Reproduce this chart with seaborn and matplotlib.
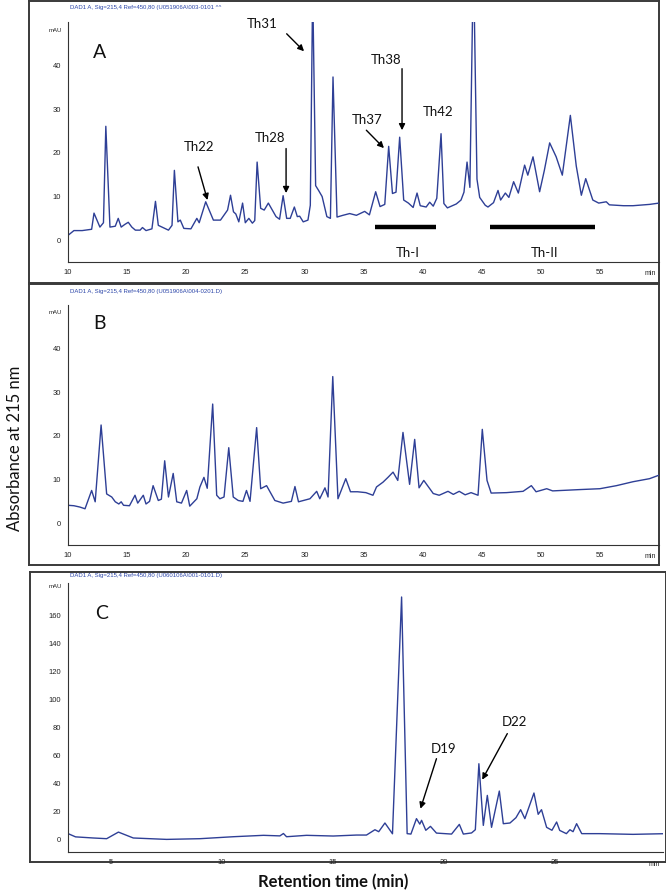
import pandas as pd
import seaborn as sns
import matplotlib.pyplot as plt
from matplotlib.ticker import MultipleLocator

# panel A - Th fractions
a_time = [10.0, 10.5, 11.2, 12.0, 12.2, 12.7, 13.0, 13.2, 13.55, 14.0, 14.25, 14.5, 14.8, 15.1,
          15.4, 15.7, 16.1, 16.3, 16.6, 17.1, 17.4, 17.64, 18.1, 18.5, 18.8, 19.0, 19.3, 19.5,
          19.8, 20.4, 20.9, 21.1, 21.65, 22.3, 22.9, 23.5, 23.75, 24.0, 24.2, 24.45, 24.77, 25.0,
          25.3, 25.6, 25.8, 26.0, 26.3, 26.6, 26.95, 27.6, 27.9, 28.2, 28.5, 28.8, 29.15, 29.4,
          29.6, 29.9, 30.3, 30.5, 30.7, 30.95, 31.2, 31.5, 31.9, 32.2, 32.42, 32.76, 33.26, 33.83,
          34.4, 35.1, 35.5, 36.03, 36.4, 36.8, 37.13, 37.45, 37.75, 38.06, 38.4, 38.8, 39.2, 39.53,
          39.8, 40.3, 40.6, 40.9, 41.2, 41.56, 41.8, 42.1, 42.85, 43.25, 43.5, 43.76, 44.0, 44.3,
          44.6, 44.83, 45.3, 45.53, 46.0, 46.38, 46.6, 47.0, 47.3, 47.7, 48.1, 48.63, 48.9, 49.34,
          49.9, 50.3, 50.75, 51.3, 51.82, 52.5, 53.0, 53.43, 53.8, 54.4, 54.9, 55.54, 55.8, 57.0,
          57.8, 59.2, 60.0]
a_abs = [1.1, 2.2, 2.2, 2.5, 6.2, 3.0, 4.0, 26.1, 3.0, 3.2, 5.0, 3.0, 3.6, 4.1,
         3.0, 2.3, 2.3, 2.9, 2.2, 2.6, 8.9, 3.4, 2.8, 2.3, 3.4, 16.0, 4.2, 4.6,
         2.7, 2.6, 5.0, 4.0, 8.8, 4.6, 4.6, 6.9, 10.3, 6.5, 6.0, 4.2, 8.5, 4.0,
         5.0, 3.9, 4.5, 17.9, 7.3, 6.9, 8.5, 5.4, 4.8, 10.2, 5.0, 5.0, 7.6, 5.4,
         5.5, 4.2, 4.6, 8.0, 58.0, 12.5, 11.4, 10.0, 5.4, 5.0, 37.4, 5.3, 5.7, 6.1,
         5.7, 6.6, 5.8, 11.1, 7.7, 8.2, 21.5, 10.7, 11.0, 23.6, 9.2, 8.5, 7.5, 10.8,
         7.9, 7.6, 8.7, 7.8, 9.6, 24.4, 8.4, 7.4, 8.3, 9.2, 11.0, 17.9, 12.1, 65.0,
         14.0, 9.8, 8.0, 7.6, 8.6, 11.4, 9.2, 10.8, 9.8, 13.4, 10.8, 17.2, 14.9, 19.1,
         11.1, 16.0, 22.3, 19.1, 14.9, 28.6, 17.0, 10.3, 14.1, 9.2, 8.5, 8.8, 8.1, 7.9,
         7.9, 8.2, 8.5]

# panel B
b_time = [10.0, 10.5, 11.0, 11.44, 12.0, 12.3, 12.8, 13.27, 13.7, 14.0, 14.3, 14.5, 14.7, 15.2,
          15.67, 15.9, 16.37, 16.6, 16.9, 17.2, 17.64, 17.9, 18.18, 18.5, 18.9, 19.2, 19.6, 20.04,
          20.3, 20.9, 21.16, 21.5, 21.78, 22.24, 22.58, 22.85, 23.2, 23.6, 23.98, 24.4, 24.8, 25.1,
          25.4, 25.96, 26.3, 26.8, 27.5, 28.2, 28.9, 29.2, 29.5, 30.47, 31.04, 31.3, 31.74, 32.0,
          32.4, 32.84, 33.5, 33.9, 34.5, 35.2, 35.8, 36.1, 36.65, 37.07, 37.5, 37.9, 38.34, 38.9,
          39.33, 39.7, 40.1, 40.9, 41.4, 42.15, 42.6, 43.1, 43.6, 44.1, 44.69, 45.05, 45.45, 45.8,
          47.1, 48.5, 49.2, 49.6, 50.5, 51.0, 53.3, 55.0, 56.4, 57.8, 59.2, 60.0]
b_abs = [4.1, 4.0, 3.7, 3.3, 7.5, 4.9, 22.5, 6.7, 6.0, 4.9, 4.4, 4.9, 4.1, 4.0,
         6.4, 4.6, 6.4, 4.4, 5.0, 8.6, 5.2, 5.5, 14.3, 6.0, 11.4, 4.9, 4.6, 7.5,
         3.9, 5.6, 8.3, 10.5, 8.0, 27.3, 6.4, 5.6, 6.0, 17.3, 6.0, 5.2, 5.0, 7.5,
         5.0, 21.9, 7.9, 8.6, 5.2, 4.6, 5.0, 8.4, 4.9, 5.6, 7.3, 5.6, 8.1, 6.0,
         33.6, 5.6, 10.2, 7.2, 7.2, 7.0, 6.4, 8.3, 9.4, 10.5, 11.7, 9.8, 20.8, 8.9,
         19.2, 8.1, 9.8, 6.8, 6.4, 7.3, 6.6, 7.3, 6.5, 7.0, 6.4, 21.5, 9.8, 6.9,
         7.0, 7.3, 8.6, 7.2, 7.9, 7.4, 7.7, 7.9, 8.6, 9.5, 10.2, 11.0]

# panel C - D fractions
c_time = [3.08, 3.4, 4.2, 4.8, 5.33, 6.0, 7.5, 9.0, 10.5, 11.86, 12.6, 12.76, 12.9, 13.8,
          15.0, 16.05, 16.5, 16.88, 17.05, 17.33, 17.67, 18.08, 18.33, 18.5, 18.75, 18.9, 18.98,
          19.17, 19.38, 19.65, 20.33, 20.68, 20.86, 21.23, 21.4, 21.56, 21.76, 21.94, 22.13,
          22.48, 22.66, 22.96, 23.23, 23.44, 23.63, 24.04, 24.23, 24.38, 24.61, 24.85, 25.06,
          25.2, 25.5, 25.66, 25.8, 25.96, 26.19, 27.0, 28.5, 30.0]
c_abs = [4.0, 1.8, 1.0, 0.5, 5.2, 1.0, 0.0, 0.5, 1.9, 2.9, 2.5, 4.2, 1.9, 2.9,
         2.4, 3.1, 3.1, 6.9, 5.5, 11.7, 4.0, 173.0, 4.1, 3.8, 14.8, 10.9, 13.6,
         6.5, 9.3, 4.5, 3.8, 10.7, 3.8, 4.6, 6.9, 54.0, 10.0, 31.4, 8.6,
         34.5, 11.2, 11.7, 15.5, 21.2, 14.8, 33.1, 17.9, 21.2, 8.6, 6.5, 12.4,
         6.4, 4.1, 6.9, 5.5, 11.2, 4.1, 4.1, 3.6, 4.1]

a_labels = ["Th22", "Th28", "Th31", "Th37", "Th38"]
a_label_xy = [(21.1, 21.4), (27.1, 23.4), (26.4, 49.6), (35.3, 27.5), (36.88, 41.3)]
a_arrow_from = [(21.0, 16.8), (28.45, 21.0), (28.5, 47.3), (35.24, 25.2), (38.26, 39.3)]
a_arrow_to = [(21.8, 9.2), (28.45, 10.8), (29.97, 43.3), (36.73, 21.1), (38.26, 25.2)]

bar_names = ["Th-I", "Th-II"]
bar_start = [35.95, 45.68]
bar_end = [41.16, 54.6]

c_labels = ["D19", "D22"]
c_label_xy = [(19.95, 64.8), (23.18, 83.8)]
c_arrow_from = [(19.65, 57.6), (22.84, 75.5)]
c_arrow_to = [(18.93, 21.9), (21.71, 42.6)]

headers = ["DAD1 A, Sig=215,4 Ref=450,80 (U051906A\\003-0101 ^^",
           "DAD1 A, Sig=215,4 Ref=450,80 (U051906A\\004-0201.D)",
           "DAD1 A, Sig=215,4 Ref=450,80 (U060106A\\001-0101.D)"]

sns.set_style("white")
plt.rcParams["font.family"] = ["Lato", "DejaVu Sans"]

W, H = 666, 892
LINE = "#2e3f96"
fig = plt.figure(figsize=(W / 100, H / 100), dpi=100)


def px_box(x0, y0, x1, y1):
    return [x0 / W, 1 - y1 / H, (x1 - x0) / W, (y1 - y0) / H]


# outer frames round each panel
for box in [(29, 1, 659, 283), (29, 284, 659, 565), (30, 572, 666, 862)]:
    fr = fig.add_axes(px_box(*box))
    fr.set_xticks([])
    fr.set_yticks([])
    fr.patch.set_alpha(0)
    for s in fr.spines.values():
        s.set_color("#3a3a3a")
        s.set_linewidth(1.4)

axA = fig.add_axes(px_box(68, 22, 659, 262))
axB = fig.add_axes(px_box(68, 305, 659, 545))
axC = fig.add_axes(px_box(68, 583, 663, 852))

sns.lineplot(x=a_time, y=a_abs, ax=axA, color=LINE, lw=1.0, sort=False)
sns.lineplot(x=b_time, y=b_abs, ax=axB, color=LINE, lw=1.0, sort=False)
sns.lineplot(x=c_time, y=c_abs, ax=axC, color=LINE, lw=1.0, sort=False)

for ax in [axA, axB, axC]:
    ax.patch.set_alpha(0)
    sns.despine(ax=ax)
    for s in ["left", "bottom"]:
        ax.spines[s].set_color("#333333")
        ax.spines[s].set_linewidth(0.8)
    ax.tick_params(which="major", direction="out", length=3, width=0.6, color="#333333",
                   labelsize=5.5, pad=2, labelcolor="#222222")
    ax.tick_params(which="minor", direction="out", length=1.6, width=0.5, color="#333333")
    ax.set_xlabel("")
    ax.set_ylabel("")
    ax.text(0.985, -0.035, "min", transform=ax.transAxes, ha="center", va="top",
            fontsize=5, color="#222222", family="Liberation Sans")
    for lab in ax.get_xticklabels() + ax.get_yticklabels():
        lab.set_family("Liberation Sans")

for ax in [axA, axB]:
    ax.set_xlim(10, 60)
    ax.set_ylim(-5, 50)
    ax.set_xticks([10, 15, 20, 25, 30, 35, 40, 45, 50, 55])
    ax.set_yticks([0, 10, 20, 30, 40])
    ax.xaxis.set_minor_locator(MultipleLocator(1))
    ax.yaxis.set_minor_locator(MultipleLocator(2))

axC.set_xlim(3.06, 29.85)
axC.set_ylim(-9, 183)
axC.set_xticks([5, 10, 15, 20, 25])
axC.set_yticks([0, 20, 40, 60, 80, 100, 120, 140, 160])
axC.xaxis.set_minor_locator(MultipleLocator(1))
axC.yaxis.set_minor_locator(MultipleLocator(4))

for ax in [axA, axB, axC]:
    for lab in ax.get_xticklabels() + ax.get_yticklabels():
        lab.set_family("Liberation Sans")

# headers and mAU labels
for txt, y in zip(headers, [8, 291, 575]):
    fig.text(70 / W, 1 - y / H, txt, fontsize=4.3, color="#2a44a8", va="center",
             family="Liberation Sans")
for y in [30, 313, 587]:
    fig.text(55 / W, 1 - y / H, "mAU", fontsize=4.3, color="#222222", ha="center",
             va="center", family="Liberation Sans")

# panel letters
axA.text(12.65, 43.1, "A", fontsize=14, ha="center", va="center", color="#111111")
axB.text(12.7, 45.7, "B", fontsize=14, ha="center", va="center", color="#111111")
axC.text(4.58, 161, "C", fontsize=14, ha="center", va="center", color="#111111")

arrow = dict(arrowstyle="-|>", color="black", lw=1.0, mutation_scale=9, shrinkA=0, shrinkB=0)
for lab, xy, p0, p1 in zip(a_labels, a_label_xy, a_arrow_from, a_arrow_to):
    axA.text(xy[0], xy[1], lab, fontsize=9.5, ha="center", va="center", color="#111111",
             clip_on=False)
    axA.annotate("", xy=p1, xytext=p0, arrowprops=arrow, annotation_clip=False)
axA.text(41.3, 29.4, "Th42", fontsize=9.5, ha="center", va="center", color="#111111")

axA.hlines([3.0] * len(bar_start), bar_start, bar_end, color="black", lw=3.2)
for name, s, e in zip(bar_names, bar_start, bar_end):
    axA.text((s + e) / 2 + 0.2, -3.0, name, fontsize=9.5, ha="center", va="center",
             color="#111111", clip_on=False,
             bbox=dict(facecolor="white", edgecolor="none", pad=1.5))

for lab, xy, p0, p1 in zip(c_labels, c_label_xy, c_arrow_from, c_arrow_to):
    axC.text(xy[0], xy[1], lab, fontsize=9.5, ha="center", va="center", color="#111111")
    axC.annotate("", xy=p1, xytext=p0, arrowprops=arrow)

fig.text(15 / W, 1 - 448 / H, "Absorbance at 215 nm", rotation=90, fontsize=12,
         ha="center", va="center", color="#111111")
fig.text(333 / W, 1 - 882 / H, "Retention time (min)", fontsize=12, fontweight="bold",
         ha="center", va="center", color="#111111")

fig.savefig("out.png", dpi=100, facecolor="white")
